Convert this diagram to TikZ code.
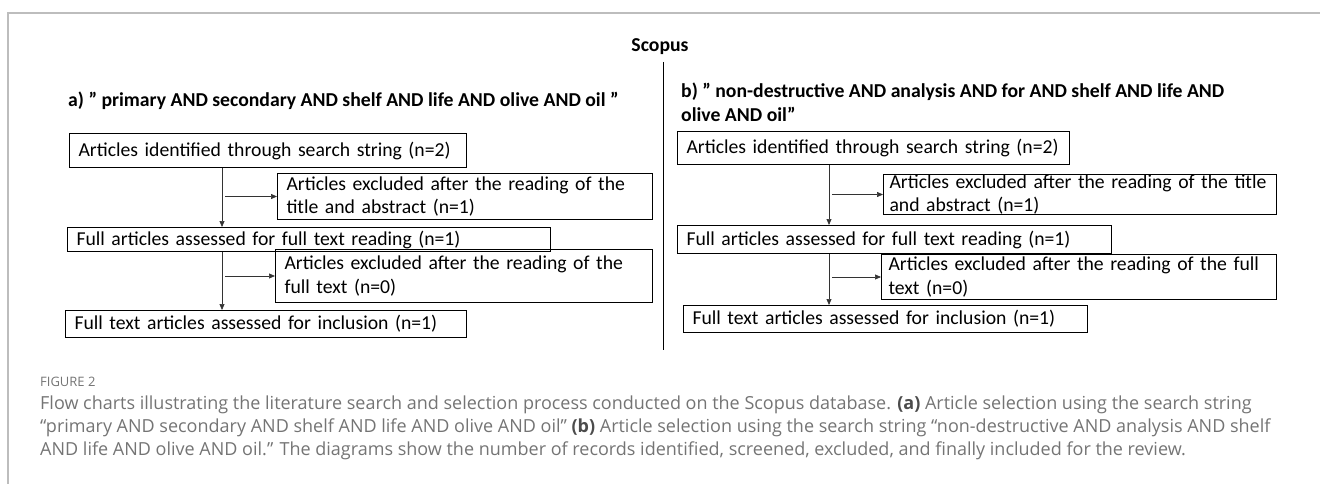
\documentclass[tikz,border=0pt]{standalone}
\usepackage{fontspec}
\setmainfont{Carlito}
\newfontfamily\capfont{Open Sans}
\usetikzlibrary{arrows.meta}
\definecolor{framegray}{HTML}{BDBDBD}
\definecolor{capgray}{HTML}{747474}
\begin{document}
\begin{tikzpicture}[x=1pt,y=-1pt,
  box/.style={draw, line width=1pt, anchor=north west, inner xsep=9pt, inner ysep=0pt,
    align=left, font=\fontsize{19.7}{23.5}\selectfont},
  arr/.style={line width=0.7pt, draw=black!80, -{Triangle[length=6pt,width=5pt]}},
  ttl/.style={anchor=west, inner sep=0pt, font=\fontsize{19.7}{21.5}\selectfont\bfseries, align=left},
  captxt/.style={anchor=west, inner sep=0pt, text=capgray, font=\capfont\fontsize{18}{20}\selectfont}]
\useasboundingbox (0,0) rectangle (1320,484);
% frame
\draw[framegray, line width=1.8pt] (8,484) -- (8,13) -- (1320,13);
% headings
\node[ttl, anchor=center] (scopus) at (660,47) {Scopus};
\node[ttl] (ta) at (68,101) {a) ” primary AND secondary AND shelf AND life AND olive AND oil ”};
\node[ttl] (tb1) at (681,92) {b) ” non-destructive AND analysis AND for AND shelf AND life AND};
\node[ttl] (tb2) at (681,114) {olive AND oil”};
\coordinate (d1) at (663,62);
\coordinate (d2) at (663,350);
\draw[line width=0.9pt] (d1) -- (d2);
% left chart
\node[box, minimum width=397pt, minimum height=34pt, text width=379pt] (A1) at (69,133) {Articles identified through search string (n=2)};
\node[box, minimum width=375pt, minimum height=46pt, text width=357pt] (A2) at (277,173) {Articles excluded after the reading of the\\title and abstract (n=1)};
\node[box, minimum width=483pt, minimum height=24pt, text width=465pt] (A3) at (67,227) {Full articles assessed for full text reading (n=1)};
\node[box, minimum width=377pt, minimum height=53pt, text width=359pt] (A4) at (275,249) {Articles excluded after the reading of the\\full text (n=0)};
\node[box, minimum width=401pt, minimum height=27pt, text width=383pt] (A5) at (65,310) {Full text articles assessed for inclusion (n=1)};
\coordinate (va) at (222,0);
\draw[arr] (A1.south -| va) -- (A3.north -| va);
\draw[arr] (A3.south -| va) -- (A5.north -| va);
\draw[arr] ([xshift=3pt]va |- A2.west) -- (A2.west);
\draw[arr] ([xshift=3pt]va |- A4.west) -- (A4.west);
% right chart
\node[box, minimum width=392pt, minimum height=33pt, text width=374pt] (B1) at (677,131) {Articles identified through search string (n=2)};
\node[box, inner xsep=6pt, minimum width=393pt, minimum height=40pt, text width=381pt] (B2) at (883,174) {Articles excluded after the reading of the title\\and abstract (n=1)};
\node[box, minimum width=434pt, minimum height=28pt, text width=416pt] (B3) at (677,225) {Full articles assessed for full text reading (n=1)};
\node[box, inner xsep=7pt, minimum width=395pt, minimum height=45pt, text width=381pt] (B4) at (881,254) {Articles excluded after the reading of the full\\text (n=0)};
\node[box, minimum width=404pt, minimum height=27pt, text width=386pt] (B5) at (683,305) {Full text articles assessed for inclusion (n=1)};
\coordinate (vb) at (829,0);
\draw[arr] (B1.south -| vb) -- (B3.north -| vb);
\draw[arr] (B3.south -| vb) -- (B5.north -| vb);
\draw[arr] ([xshift=3pt]vb |- B2.west) -- (B2.west);
\draw[arr] ([xshift=3pt]vb |- B4.west) -- (B4.west);
% caption
\node[captxt, font=\capfont\fontsize{13}{15}\selectfont] (fig) at (40,382) {FIGURE 2};
\node[captxt] (c1) at (40,405) {Flow charts illustrating the literature search and selection process conducted on the Scopus database. {\bfseries\color{black!70}(a)} Article selection using the search string};
\node[captxt] (c2) at (40,428) {“primary AND secondary AND shelf AND life AND olive AND oil” {\bfseries\color{black!70}(b)} Article selection using the search string “non-destructive AND analysis AND shelf};
\node[captxt] (c3) at (40,451) {AND life AND olive AND oil.” The diagrams show the number of records identified, screened, excluded, and finally included for the review.};
\end{tikzpicture}
\end{document}
